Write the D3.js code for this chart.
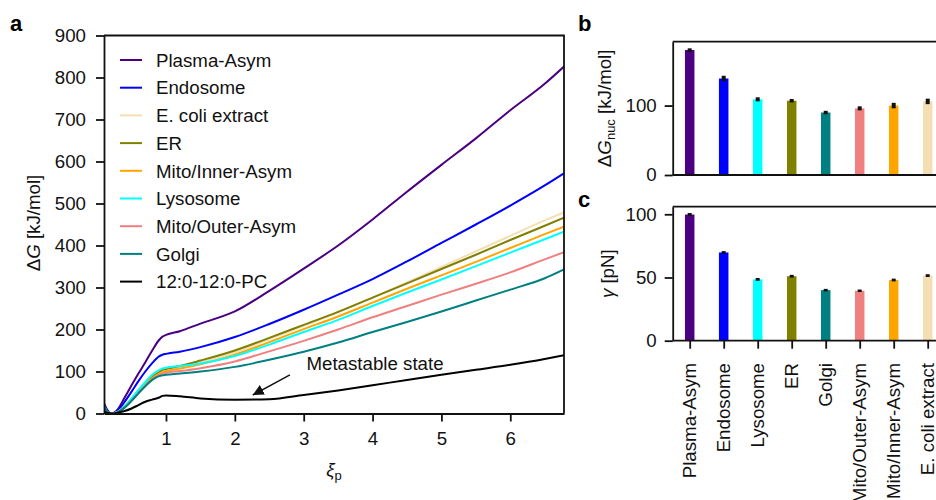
<!DOCTYPE html>
<html>
<head>
<meta charset="utf-8">
<script src="https://cdn.jsdelivr.net/npm/d3@7"></script>
<style>
  body { margin: 0; background: #fff; }
  svg { font-family: "Liberation Sans", Arial, Helvetica, sans-serif; }
  .axis path, .axis line { stroke: #111; stroke-width: 1.8px; }
  .axis text { font-size: 18.7px; fill: #111; }
</style>
</head>
<body>
<div id="chart"></div>
<script>
// xi grid of the free energy profiles
const xi = [0.1, 0.15, 0.2, 0.25, 0.3, 0.4, 0.5, 0.6, 0.7, 0.8, 0.9, 0.95, 1.0, 1.2, 1.5, 2.0, 2.5, 3.0, 3.5, 4.0, 4.5, 5.0, 5.5, 6.0, 6.5, 6.78];

const plasmaAsym = [25, 8, 0, 2, 10, 38, 67, 95, 122, 150, 175, 183, 187, 196, 214, 243, 292, 345, 400, 462, 528, 592, 655, 722, 785, 826];
const endosome   = [22, 6, 0, 2, 7, 28, 52, 77, 100, 120, 136, 140, 142, 147, 158, 182, 213, 247, 283, 320, 362, 406, 450, 495, 543, 572];
const ecoli      = [15, 4, 0, 1, 4, 16, 33, 52, 70, 85, 97, 101, 103, 110, 122, 146, 177, 209, 241, 276, 312, 349, 386, 423, 460, 479];
const er         = [15, 4, 0, 1, 4, 17, 34, 53, 71, 87, 99, 104, 106, 113, 126, 150, 180, 211, 242, 276, 310, 344, 378, 413, 447, 466];
const mitoInner  = [15, 4, 0, 1, 4, 16, 33, 51, 69, 84, 95, 99, 101, 107, 117, 140, 170, 201, 231, 264, 297, 329, 361, 394, 427, 445];
const lysosome   = [16, 4, 0, 1, 4, 18, 36, 56, 75, 92, 103, 107, 109, 113, 119, 137, 164, 194, 223, 256, 288, 319, 351, 383, 415, 433];
const mitoOuter  = [15, 4, 0, 1, 3, 15, 31, 49, 66, 81, 92, 95, 97, 101, 108, 124, 148, 173, 200, 229, 256, 283, 309, 336, 367, 384];
const golgi      = [18, 4, 0, 0, 3, 14, 30, 48, 65, 80, 89, 91, 92, 95, 100, 111, 128, 147, 169, 194, 218, 243, 269, 295, 322, 343];
const pc12       = [5, 1, 0, 0, 2, 6, 12, 20, 28, 33, 38, 42, 43, 41, 36, 33, 34, 44, 55, 67, 80, 92, 104, 116, 130, 139];

const seriesNames  = ["Plasma-Asym", "Endosome", "E. coli extract", "ER", "Mito/Inner-Asym", "Lysosome", "Mito/Outer-Asym", "Golgi", "12:0-12:0-PC"];
const seriesValues = [plasmaAsym, endosome, ecoli, er, mitoInner, lysosome, mitoOuter, golgi, pc12];
const seriesColors = ["#4B0082", "#0000FF", "#F5DEB3", "#808000", "#FFA500", "#00FFFF", "#F08080", "#008080", "#000000"];

// bar panels b and c
const barCats   = ["Plasma-Asym", "Endosome", "Lysosome", "ER", "Golgi", "Mito/Outer-Asym", "Mito/Inner-Asym", "E. coli extract"];
const barColors = ["#4B0082", "#0000FF", "#00FFFF", "#808000", "#008080", "#F08080", "#FFA500", "#F5DEB3"];
const dGnuc     = [180, 139, 109, 107, 90, 96, 100, 106];
const dGnucErr  = [1, 2.5, 1.5, 1, 1, 1.5, 2.5, 2.5];
const gamma     = [99.8, 69.8, 48.5, 51, 40, 39.5, 48, 51.5];
const gammaErr  = [0.4, 0.3, 0.3, 0.3, 0.2, 0.2, 0.3, 0.3];

const aTicksY = d3.range(0, 901, 100);
const aTicksX = [1, 2, 3, 4, 5, 6];

const svg = d3.select("#chart").append("svg")
    .attr("width", 936)
    .attr("height", 500);

// ---------- panel a ----------
let x = d3.scaleLinear().domain([0.1, 6.78]).range([104, 564]);
let y = d3.scaleLinear().domain([0, 900]).range([413.5, 35.5]);

svg.append("clipPath").attr("id", "clipA")
  .append("rect")
    .attr("x", x.range()[0]).attr("y", y.range()[1])
    .attr("width", x.range()[1] - x.range()[0])
    .attr("height", y.range()[0] - y.range()[1]);

let line = d3.line()
    .x(d => x(d[0]))
    .y(d => y(d[1]))
    .curve(d3.curveMonotoneX);

svg.append("g")
    .attr("clip-path", "url(#clipA)")
  .selectAll("path")
  .data(seriesValues)
  .enter().append("path")
    .attr("d", vals => line(vals.map((v, i) => [xi[i], v])))
    .attr("fill", "none")
    .attr("stroke", (d, i) => seriesColors[i])
    .attr("stroke-width", 2)
    .attr("stroke-linejoin", "round");

// frame (top + right)
svg.append("path")
    .attr("d", `M${x.range()[0]},${y.range()[1]}H${x.range()[1]}V${y.range()[0]}`)
    .attr("fill", "none")
    .attr("stroke", "#111")
    .attr("stroke-width", 1.8);

svg.append("g")
    .attr("class", "axis")
    .attr("transform", "translate(0," + y.range()[0] + ")")
    .call(d3.axisBottom(x).tickValues(aTicksX).tickFormat(d3.format("d"))
      .tickSize(8).tickSizeOuter(0).tickPadding(10));

svg.append("g")
    .attr("class", "axis")
    .attr("transform", "translate(" + x.range()[0] + ",0)")
    .call(d3.axisLeft(y).tickValues(aTicksY).tickSize(8).tickSizeOuter(0).tickPadding(10));

// legend
let legend = svg.append("g");
seriesNames.forEach((name, i) => {
  let ly = 60 + i * 27.7;
  legend.append("line")
      .attr("x1", 120).attr("x2", 142)
      .attr("y1", ly).attr("y2", ly)
      .attr("stroke", seriesColors[i])
      .attr("stroke-width", 2);
  legend.append("text")
      .attr("x", 156).attr("y", ly)
      .attr("dy", "0.36em")
      .attr("font-size", 18.7)
      .attr("fill", "#111")
      .text(name);
});

// annotation
svg.append("defs").append("marker")
    .attr("id", "arrow")
    .attr("viewBox", "0 0 10 10")
    .attr("refX", 10).attr("refY", 5)
    .attr("markerWidth", 11).attr("markerHeight", 11)
    .attr("markerUnits", "userSpaceOnUse")
    .attr("orient", "auto")
  .append("path")
    .attr("d", "M0,0L10,5L0,10z")
    .attr("fill", "#111");

svg.append("line")
    .attr("x1", x(2.8)).attr("y1", y(92))
    .attr("x2", x(2.26)).attr("y2", y(44))
    .attr("stroke", "#111")
    .attr("stroke-width", 1.5)
    .attr("marker-end", "url(#arrow)");

svg.append("text")
    .attr("x", x(3.04)).attr("y", y(104))
    .attr("font-size", 18.7)
    .attr("fill", "#111")
    .text("Metastable state");

// axis titles
let yLab = svg.append("text")
    .attr("transform", "translate(40,223) rotate(-90)")
    .attr("text-anchor", "middle")
    .attr("font-size", 18.7)
    .attr("fill", "#111");
yLab.append("tspan").text("Δ");
yLab.append("tspan").attr("font-style", "italic").text("G");
yLab.append("tspan").text(" [kJ/mol]");

let xLab = svg.append("text")
    .attr("x", 334).attr("y", 476)
    .attr("text-anchor", "middle")
    .attr("font-size", 18.7)
    .attr("fill", "#111");
xLab.append("tspan").attr("font-style", "italic").text("ξ");
xLab.append("tspan").attr("font-size", 13).attr("dy", 4).text("p");

svg.append("text").attr("x", 10).attr("y", 31)
    .attr("font-size", 22).attr("font-weight", "bold").text("a");

// ---------- panels b and c ----------
let xb = d3.scalePoint().domain(barCats).range([672.7, 944.7]).padding(0.5);
let barW = 9.5;

function barPanel(vals, errs, yScale, ticks, labelParts, labelX, letter, letterY) {
  let g = svg.append("g");
  let top = yScale.range()[1], bottom = yScale.range()[0];

  g.selectAll("rect.bar")
    .data(vals)
    .enter().append("rect")
      .attr("class", "bar")
      .attr("x", (d, i) => xb(barCats[i]) - barW / 2)
      .attr("y", d => yScale(d))
      .attr("width", barW)
      .attr("height", d => bottom - yScale(d))
      .attr("fill", (d, i) => barColors[i]);

  // error bars
  g.selectAll("line.err")
    .data(vals)
    .enter().append("line")
      .attr("class", "err")
      .attr("x1", (d, i) => xb(barCats[i]))
      .attr("x2", (d, i) => xb(barCats[i]))
      .attr("y1", (d, i) => yScale(d - errs[i]) + 1)
      .attr("y2", (d, i) => yScale(d + errs[i]) - 1)
      .attr("stroke", "#111")
      .attr("stroke-width", 4);

  g.append("path")
      .attr("d", `M${xb.range()[0]},${top}H960`)
      .attr("stroke", "#111")
      .attr("stroke-width", 1.8);

  g.append("g")
      .attr("class", "axis")
      .attr("transform", "translate(" + xb.range()[0] + ",0)")
      .call(d3.axisLeft(yScale).tickValues(ticks).tickSize(8).tickSizeOuter(0).tickPadding(8));

  let lab = g.append("text")
      .attr("transform", `translate(${labelX},${(top + bottom) / 2}) rotate(-90)`)
      .attr("text-anchor", "middle")
      .attr("font-size", 18.7)
      .attr("fill", "#111");
  labelParts.forEach(p => {
    let t = lab.append("tspan").text(p.t);
    if (p.i) t.attr("font-style", "italic");
    if (p.sub) t.attr("font-size", 13).attr("dy", 4);
    if (p.up) t.attr("dy", -4);
  });

  svg.append("text").attr("x", 578).attr("y", letterY)
      .attr("font-size", 22).attr("font-weight", "bold").text(letter);
  return g;
}

let yb = d3.scaleLinear().domain([0, 192]).range([175, 41.7]);
let yc = d3.scaleLinear().domain([0, 106]).range([340.7, 206.7]);

let gb = barPanel(dGnuc, dGnucErr, yb, [0, 100],
  [{t: "Δ"}, {t: "G", i: true}, {t: "nuc", sub: true}, {t: " [kJ/mol]", up: true}], 611, "b", 31);
gb.append("path")
    .attr("d", `M${xb.range()[0]},175H960`)
    .attr("stroke", "#111").attr("stroke-width", 1.8);

let gc = barPanel(gamma, gammaErr, yc, [0, 50, 100],
  [{t: "γ", i: true}, {t: " [pN]"}], 614, "c", 207);

gc.append("g")
    .attr("class", "axis")
    .attr("transform", "translate(0,340.7)")
    .call(d3.axisBottom(xb).tickSize(8).tickSizeOuter(0).tickFormat(""))
  .select(".domain")
    .attr("d", `M${xb.range()[0]},0H960`);

gc.selectAll("text.cat")
  .data(barCats)
  .enter().append("text")
    .attr("class", "cat")
    .attr("transform", d => `translate(${xb(d)},363) rotate(-90)`)
    .attr("text-anchor", "end")
    .attr("dy", "0.36em")
    .attr("font-size", 18.7)
    .attr("fill", "#111")
    .text(d => d);
</script>
</body>
</html>
